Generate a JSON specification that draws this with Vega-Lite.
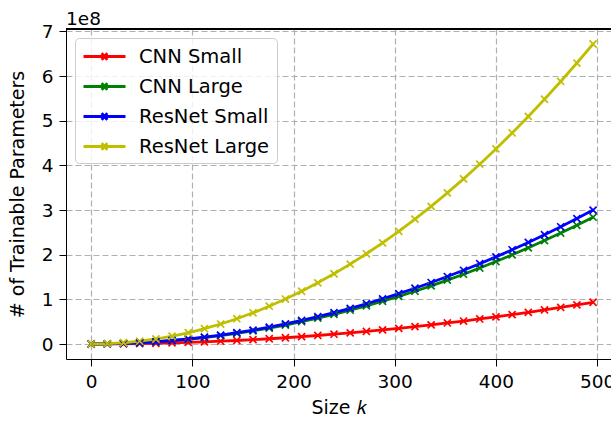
{
  "$schema": "https://vega.github.io/schema/vega-lite/v6.json",
  "width": 545,
  "height": 330,
  "autosize": {"type": "none"},
  "padding": {"left": 66, "top": 29, "right": 0, "bottom": 63},
  "background": "white",
  "title": {"text": "1e8", "anchor": "start", "frame": "group", "offset": -6, "font": "DejaVu Sans", "fontSize": 18.5, "fontWeight": "normal", "color": "black"},
  "data": {"values": [
    {"k": 0, "model": "CNN Small", "params": 0},
    {"k": 16, "model": "CNN Small", "params": 97000},
    {"k": 32, "model": "CNN Small", "params": 389000},
    {"k": 48, "model": "CNN Small", "params": 876000},
    {"k": 64, "model": "CNN Small", "params": 1557000},
    {"k": 80, "model": "CNN Small", "params": 2432000},
    {"k": 96, "model": "CNN Small", "params": 3503000},
    {"k": 112, "model": "CNN Small", "params": 4767000},
    {"k": 128, "model": "CNN Small", "params": 6227000},
    {"k": 144, "model": "CNN Small", "params": 7881000},
    {"k": 160, "model": "CNN Small", "params": 9729000},
    {"k": 176, "model": "CNN Small", "params": 11773000},
    {"k": 192, "model": "CNN Small", "params": 14010000},
    {"k": 208, "model": "CNN Small", "params": 16443000},
    {"k": 224, "model": "CNN Small", "params": 19070000},
    {"k": 240, "model": "CNN Small", "params": 21891000},
    {"k": 256, "model": "CNN Small", "params": 24907000},
    {"k": 272, "model": "CNN Small", "params": 28118000},
    {"k": 288, "model": "CNN Small", "params": 31523000},
    {"k": 304, "model": "CNN Small", "params": 35123000},
    {"k": 320, "model": "CNN Small", "params": 38918000},
    {"k": 336, "model": "CNN Small", "params": 42907000},
    {"k": 352, "model": "CNN Small", "params": 47090000},
    {"k": 368, "model": "CNN Small", "params": 51469000},
    {"k": 384, "model": "CNN Small", "params": 56041000},
    {"k": 400, "model": "CNN Small", "params": 60809000},
    {"k": 416, "model": "CNN Small", "params": 65771000},
    {"k": 432, "model": "CNN Small", "params": 70927000},
    {"k": 448, "model": "CNN Small", "params": 76279000},
    {"k": 464, "model": "CNN Small", "params": 81824000},
    {"k": 480, "model": "CNN Small", "params": 87565000},
    {"k": 496, "model": "CNN Small", "params": 93500000},
    {"k": 0, "model": "CNN Large", "params": 0},
    {"k": 16, "model": "CNN Large", "params": 296000},
    {"k": 32, "model": "CNN Large", "params": 1182000},
    {"k": 48, "model": "CNN Large", "params": 2660000},
    {"k": 64, "model": "CNN Large", "params": 4728000},
    {"k": 80, "model": "CNN Large", "params": 7388000},
    {"k": 96, "model": "CNN Large", "params": 10639000},
    {"k": 112, "model": "CNN Large", "params": 14481000},
    {"k": 128, "model": "CNN Large", "params": 18914000},
    {"k": 144, "model": "CNN Large", "params": 23938000},
    {"k": 160, "model": "CNN Large", "params": 29553000},
    {"k": 176, "model": "CNN Large", "params": 35759000},
    {"k": 192, "model": "CNN Large", "params": 42556000},
    {"k": 208, "model": "CNN Large", "params": 49944000},
    {"k": 224, "model": "CNN Large", "params": 57923000},
    {"k": 240, "model": "CNN Large", "params": 66493000},
    {"k": 256, "model": "CNN Large", "params": 75654000},
    {"k": 272, "model": "CNN Large", "params": 85407000},
    {"k": 288, "model": "CNN Large", "params": 95750000},
    {"k": 304, "model": "CNN Large", "params": 106685000},
    {"k": 320, "model": "CNN Large", "params": 118210000},
    {"k": 336, "model": "CNN Large", "params": 130327000},
    {"k": 352, "model": "CNN Large", "params": 143034000},
    {"k": 368, "model": "CNN Large", "params": 156333000},
    {"k": 384, "model": "CNN Large", "params": 170222000},
    {"k": 400, "model": "CNN Large", "params": 184703000},
    {"k": 416, "model": "CNN Large", "params": 199775000},
    {"k": 432, "model": "CNN Large", "params": 215438000},
    {"k": 448, "model": "CNN Large", "params": 231692000},
    {"k": 464, "model": "CNN Large", "params": 248537000},
    {"k": 480, "model": "CNN Large", "params": 265973000},
    {"k": 496, "model": "CNN Large", "params": 284000000},
    {"k": 0, "model": "ResNet Small", "params": 0},
    {"k": 16, "model": "ResNet Small", "params": 312000},
    {"k": 32, "model": "ResNet Small", "params": 1249000},
    {"k": 48, "model": "ResNet Small", "params": 2810000},
    {"k": 64, "model": "ResNet Small", "params": 4995000},
    {"k": 80, "model": "ResNet Small", "params": 7804000},
    {"k": 96, "model": "ResNet Small", "params": 11238000},
    {"k": 112, "model": "ResNet Small", "params": 15297000},
    {"k": 128, "model": "ResNet Small", "params": 19979000},
    {"k": 144, "model": "ResNet Small", "params": 25286000},
    {"k": 160, "model": "ResNet Small", "params": 31217000},
    {"k": 176, "model": "ResNet Small", "params": 37773000},
    {"k": 192, "model": "ResNet Small", "params": 44953000},
    {"k": 208, "model": "ResNet Small", "params": 52758000},
    {"k": 224, "model": "ResNet Small", "params": 61186000},
    {"k": 240, "model": "ResNet Small", "params": 70239000},
    {"k": 256, "model": "ResNet Small", "params": 79917000},
    {"k": 272, "model": "ResNet Small", "params": 90219000},
    {"k": 288, "model": "ResNet Small", "params": 101145000},
    {"k": 304, "model": "ResNet Small", "params": 112695000},
    {"k": 320, "model": "ResNet Small", "params": 124870000},
    {"k": 336, "model": "ResNet Small", "params": 137669000},
    {"k": 352, "model": "ResNet Small", "params": 151092000},
    {"k": 368, "model": "ResNet Small", "params": 165140000},
    {"k": 384, "model": "ResNet Small", "params": 179813000},
    {"k": 400, "model": "ResNet Small", "params": 195109000},
    {"k": 416, "model": "ResNet Small", "params": 211030000},
    {"k": 432, "model": "ResNet Small", "params": 227575000},
    {"k": 448, "model": "ResNet Small", "params": 244745000},
    {"k": 464, "model": "ResNet Small", "params": 262539000},
    {"k": 480, "model": "ResNet Small", "params": 280957000},
    {"k": 496, "model": "ResNet Small", "params": 300000000},
    {"k": 0, "model": "ResNet Large", "params": 0},
    {"k": 16, "model": "ResNet Large", "params": 699000},
    {"k": 32, "model": "ResNet Large", "params": 2797000},
    {"k": 48, "model": "ResNet Large", "params": 6293000},
    {"k": 64, "model": "ResNet Large", "params": 11188000},
    {"k": 80, "model": "ResNet Large", "params": 17482000},
    {"k": 96, "model": "ResNet Large", "params": 25174000},
    {"k": 112, "model": "ResNet Large", "params": 34265000},
    {"k": 128, "model": "ResNet Large", "params": 44753000},
    {"k": 144, "model": "ResNet Large", "params": 56641000},
    {"k": 160, "model": "ResNet Large", "params": 69927000},
    {"k": 176, "model": "ResNet Large", "params": 84611000},
    {"k": 192, "model": "ResNet Large", "params": 100695000},
    {"k": 208, "model": "ResNet Large", "params": 118180000},
    {"k": 224, "model": "ResNet Large", "params": 137060000},
    {"k": 240, "model": "ResNet Large", "params": 157340000},
    {"k": 256, "model": "ResNet Large", "params": 179010000},
    {"k": 272, "model": "ResNet Large", "params": 202090000},
    {"k": 288, "model": "ResNet Large", "params": 226560000},
    {"k": 304, "model": "ResNet Large", "params": 252440000},
    {"k": 320, "model": "ResNet Large", "params": 279710000},
    {"k": 336, "model": "ResNet Large", "params": 308380000},
    {"k": 352, "model": "ResNet Large", "params": 338450000},
    {"k": 368, "model": "ResNet Large", "params": 369920000},
    {"k": 384, "model": "ResNet Large", "params": 402780000},
    {"k": 400, "model": "ResNet Large", "params": 437040000},
    {"k": 416, "model": "ResNet Large", "params": 472710000},
    {"k": 432, "model": "ResNet Large", "params": 509770000},
    {"k": 448, "model": "ResNet Large", "params": 548230000},
    {"k": 464, "model": "ResNet Large", "params": 588090000},
    {"k": 480, "model": "ResNet Large", "params": 629340000},
    {"k": 496, "model": "ResNet Large", "params": 672000000}
  ]},
  "encoding": {
    "x": {
      "field": "k", "type": "quantitative",
      "scale": {"domain": [-24.8, 513.7], "nice": false, "zero": false},
      "axis": {"title": "Size 𝑘", "values": [0, 100, 200, 300, 400, 500], "titlePadding": 8}
    },
    "y": {
      "field": "params", "type": "quantitative",
      "scale": {"domain": [-33600000, 705600000], "nice": false, "zero": false},
      "axis": {
        "title": "# of Trainable Parameters",
        "values": [0, 100000000, 200000000, 300000000, 400000000, 500000000, 600000000, 700000000],
        "labelExpr": "format(datum.value / 100000000, 'd')",
        "titlePadding": 14
      }
    },
    "color": {
      "field": "model", "type": "nominal",
      "scale": {
        "domain": ["CNN Small", "CNN Large", "ResNet Small", "ResNet Large"],
        "range": ["#ff0000", "#008000", "#0000ff", "#bfbf00"]
      },
      "legend": {"title": null}
    }
  },
  "layer": [
    {"mark": {"type": "line", "strokeWidth": 2.8}},
    {"mark": {"type": "point", "shape": "M-1,-1L1,1M-1,1L1,-1", "filled": false, "size": 50, "strokeWidth": 1.7, "opacity": 1}},
    {"mark": {"type": "rule", "color": "black", "strokeWidth": 1}, "encoding": {"x": null, "color": null, "y": {"datum": 705600000}}}
  ],
  "config": {
    "view": {"stroke": null},
    "font": "DejaVu Sans",
    "axis": {
      "domainColor": "black", "domainWidth": 1,
      "tickColor": "black", "tickSize": 7, "tickWidth": 1,
      "labelColor": "black", "labelFont": "DejaVu Sans", "labelFontSize": 18.5, "labelPadding": 6,
      "titleColor": "black", "titleFont": "DejaVu Sans", "titleFontSize": 19, "titleFontWeight": "normal",
      "grid": true, "gridColor": "#b0b0b0", "gridDash": [6, 3], "gridWidth": 1.2
    },
    "legend": {
      "orient": "top-left", "offset": 9, "padding": 7, "cornerRadius": 4,
      "strokeColor": "#cccccc", "fillColor": "rgba(255,255,255,0.8)",
      "symbolType": "M-2.1,0L2.1,0M-0.28,-0.34L0.28,0.34M-0.28,0.34L0.28,-0.34",
      "symbolSize": 400, "symbolOffset": 11, "symbolStrokeWidth": 2.8, "symbolFillColor": "transparent",
      "labelFont": "DejaVu Sans", "labelFontSize": 19.5, "labelColor": "black",
      "labelOffset": 23, "rowPadding": 9
    }
  }
}
